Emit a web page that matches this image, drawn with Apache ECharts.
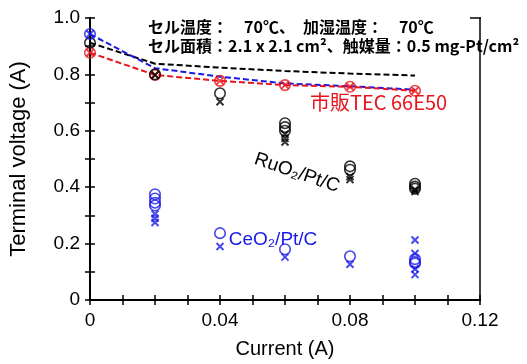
<!DOCTYPE html>
<html>
<head>
<meta charset="utf-8">
<script src="https://cdn.jsdelivr.net/npm/echarts@6/dist/echarts.min.js"></script>
<style>
html,body{margin:0;padding:0;background:#fff;}
#chart{width:527px;height:364px;}
</style>
</head>
<body>
<div id="chart"></div>
<script>
// ---- data ----
const currents = [0, 0.02, 0.04, 0.06, 0.08, 0.10];
const tecFit  = [0.877, 0.798, 0.777, 0.762, 0.756, 0.742];
const ruo2Fit = [0.912, 0.838, 0.824, 0.812, 0.803, 0.796];
const ceo2Fit = [0.943, 0.822, 0.792, 0.768, 0.758, 0.746];

const ruo2Circles = [[0,0.912],[0.02,0.800],[0.04,0.733],[0.06,0.627],[0.06,0.613],[0.06,0.600],[0.08,0.474],[0.08,0.462],[0.10,0.412],[0.10,0.402],[0.10,0.395]];
const ruo2Crosses = [[0.02,0.798],[0.04,0.703],[0.06,0.588],[0.06,0.573],[0.06,0.560],[0.08,0.437],[0.08,0.427],[0.10,0.392],[0.10,0.385]];
const ceo2Circles = [[0,0.943],[0.02,0.375],[0.02,0.360],[0.02,0.345],[0.02,0.335],[0.04,0.237],[0.06,0.180],[0.08,0.155],[0.10,0.145],[0.10,0.135],[0.10,0.130]];
const ceo2Crosses = [[0,0.943],[0.02,0.305],[0.02,0.290],[0.02,0.275],[0.04,0.190],[0.06,0.152],[0.08,0.127],[0.10,0.213],[0.10,0.165],[0.10,0.110],[0.10,0.090]];

const xTickLabels = ['0','0.04','0.08','0.12'];
const yTickLabels = ['0','0.2','0.4','0.6','0.8','1.0'];

const titleLine1 = 'セル温度：　70℃、　加湿温度：　70℃';
const titleLine2 = 'セル面積：2.1 x 2.1 cm²、触媒量：0.5 mg-Pt/cm²';
const labelTec = '市販TEC 66E50';
const labelRuo2 = 'RuO₂/Pt/C';
const labelCeo2 = 'CeO₂/Pt/C';

// ---- chart ----
const RED = '#e8141c', BLUE = '#1a1ae6', BLACK = '#000';
const FONT = '"Liberation Sans", Arial, sans-serif';
const CROSS = 'path://M0,0L10,10M10,0L0,10';

function pairs(ys){ return currents.map((x,i)=>[x, ys[i]]); }

function circleSeries(data, color){
  return {type:'scatter', data, symbol:'circle', symbolSize:10.5, z:4,
    itemStyle:{color:'rgba(0,0,0,0)', borderColor:color, borderWidth:1.6}};
}
function crossSeries(data, color){
  return {type:'scatter', data, symbol:CROSS, symbolSize:7, z:4,
    itemStyle:{color:'rgba(0,0,0,0)', borderColor:color, borderWidth:2}};
}
function fitSeries(ys, color){
  return {type:'line', data:pairs(ys), showSymbol:false, symbol:'none', z:3,
    lineStyle:{color, width:2, type:[6,3]}};
}

const xLabelFmt = v => { const k = Math.round(v*100); if (k % 4) return ''; return xTickLabels[k/4] || ''; };
const yLabelFmt = v => { const k = Math.round(v*10); if (k % 2) return ''; return yTickLabels[k/2] || ''; };

const axisLine = {show:true, lineStyle:{color:'#000', width:2}};
const baseX = {type:'value', min:0, max:0.12, interval:0.01, splitLine:{show:false}};
const baseY = {type:'value', min:0, max:1.0, interval:0.1, splitLine:{show:false}};

const chart = echarts.init(document.getElementById('chart'), null, {renderer:'canvas'});
chart.setOption({
  animation:false,
  backgroundColor:'#fff',
  grid:{left:90, right:47, top:18, bottom:64},
  xAxis:[
    Object.assign({}, baseX, {position:'bottom', axisLine,
      axisTick:{show:true, inside:false, length:5, lineStyle:{color:'#000', width:1.5}},
      axisLabel:{formatter:xLabelFmt, color:'#000', fontSize:19, fontFamily:FONT, margin:11, showMinLabel:true, showMaxLabel:true},
      name:'Current (A)', nameLocation:'middle', nameGap:39,
      nameTextStyle:{color:'#000', fontSize:20, fontFamily:FONT}}),
    Object.assign({}, baseX, {position:'bottom', axisLine,
      axisTick:{show:true, inside:true, length:5, lineStyle:{color:'#000', width:1.5}},
      axisLabel:{show:false}})
  ],
  yAxis:[
    Object.assign({}, baseY, {position:'left', axisLine,
      axisTick:{show:true, inside:false, length:5, lineStyle:{color:'#000', width:1.5}},
      axisLabel:{formatter:yLabelFmt, color:'#000', fontSize:19, fontFamily:FONT, margin:10},
      name:'Terminal voltage (A)', nameLocation:'middle', nameGap:60,
      nameTextStyle:{color:'#000', fontSize:22, fontFamily:FONT}}),
    Object.assign({}, baseY, {position:'left', axisLine,
      axisTick:{show:true, inside:true, length:5, lineStyle:{color:'#000', width:1.5}},
      axisLabel:{show:false}}),
    Object.assign({}, baseY, {position:'right', axisLine:{show:true, lineStyle:{color:'#000', width:1.5}},
      axisTick:{show:false}, axisLabel:{show:false}})
  ],
  series:[
    fitSeries(ruo2Fit, BLACK),
    fitSeries(ceo2Fit, BLUE),
    fitSeries(tecFit, RED),
    circleSeries(pairs(tecFit), RED),
    crossSeries(pairs(tecFit), RED),
    circleSeries(ruo2Circles, BLACK),
    crossSeries(ruo2Crosses, BLACK),
    circleSeries(ceo2Circles, BLUE),
    crossSeries(ceo2Crosses, BLUE)
  ],
  graphic:[
    {type:'line', shape:{x1:470, y1:18, x2:481, y2:18}, style:{stroke:'#000', lineWidth:1.5}, z:1},
    {type:'text', left:148, top:17, z:10,
      style:{text:titleLine1 + '\n' + titleLine2, fill:'#000', font:'bold 16px "Noto Sans CJK JP", sans-serif', lineHeight:19}},
    {type:'text', left:310, top:92, z:10,
      style:{text:labelTec, fill:RED, font:'20px "Noto Sans CJK JP", sans-serif'}},
    {type:'text', x:297, y:173, rotation:-0.33, z:10,
      style:{text:labelRuo2, fill:'#000', font:'19px ' + FONT, textAlign:'center', textVerticalAlign:'middle'}},
    {type:'text', x:273, y:240, z:10,
      style:{text:labelCeo2, fill:BLUE, font:'19px ' + FONT, textAlign:'center', textVerticalAlign:'middle'}}
  ]
});
</script>
</body>
</html>
